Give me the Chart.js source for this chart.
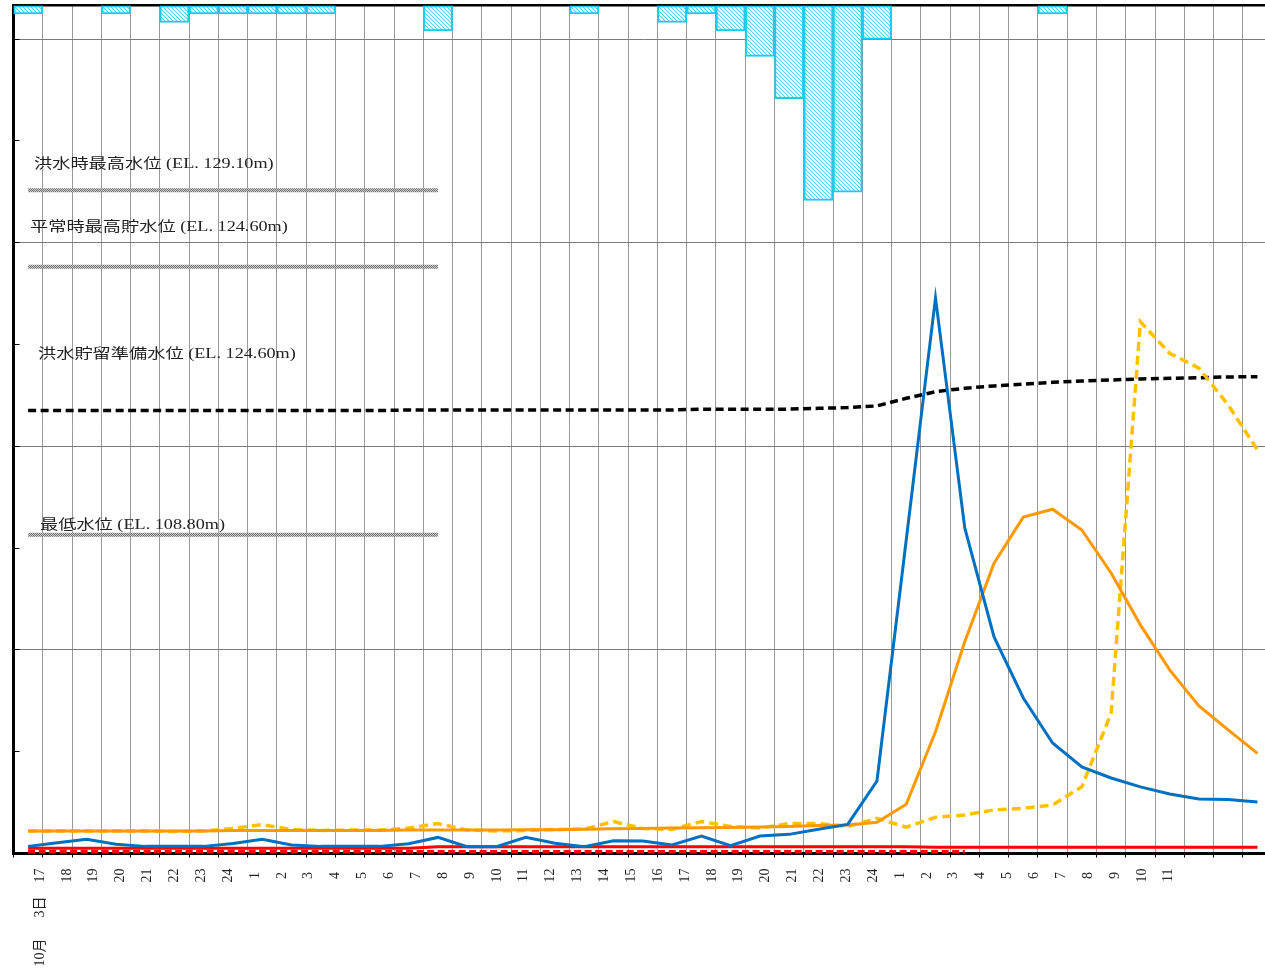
<!DOCTYPE html>
<html>
<head>
<meta charset="utf-8">
<script src="https://cdn.jsdelivr.net/npm/chart.js@4.4.0/dist/chart.umd.min.js"></script>
<style>
    html,body{margin:0;padding:0;background:#fff;overflow:hidden}
    canvas{display:block}
</style>
</head>
<body>
<canvas id="graf" width="1280" height="973"></canvas>
<script>

// 時刻 (10月3日17時 〜)
const hourLabels = ['17','18','19','20','21','22','23','24','1','2','3','4','5','6','7','8','9','10','11','12','13','14','15','16','17','18','19','20','21','22','23','24','1','2','3','4','5','6','7','8','9','10','11']
const dateLabel = '10月      3日    '

// 時間雨量 (mm)
const rainfall = [1,null,null,1,null,2,1,1,1,1,1,null,null,null,3,null,null,null,null,1,null,null,2,1,3,6,11,23,22,4,null,null,null,null,null,1,null,null,null,null,null,null,null]

// 流入量
const inflow = [3.5,5.3,7.0,4.5,3.5,3.5,3.5,4.9,7.0,4.2,3.5,3.5,3.5,4.8,7.9,3.3,3.3,8.0,5.0,3.3,6.3,6.1,4.2,8.6,3.8,8.6,9.4,11.9,14.3,35.6,154.0,272.9,159.9,106.4,76.4,54.3,42.5,37.1,32.7,29.2,26.8,26.5,25.3]

// 放流量
const outflow = [11.0,11.0,11.0,11.0,11.1,11.1,11.1,11.3,11.3,11.3,11.3,11.3,11.3,11.5,11.5,11.5,11.5,11.7,11.7,11.9,12.1,12.3,12.5,12.7,12.8,13.0,13.3,13.7,14.0,15.3,24.2,59.8,104.0,142.6,165.2,169.1,158.9,137.8,112.3,90.2,72.5,60.7,49.2]

// 下流流量
const downstream = [11.1,11.1,11.1,11.1,11.1,10.8,11.1,12.3,14.2,11.8,11.3,11.5,11.5,12.5,14.7,11.5,11.1,11.3,11.8,12.0,15.7,12.3,11.8,15.7,13.3,12.5,14.7,14.7,13.3,17.3,12.9,17.8,18.9,21.4,22.2,23.8,32.8,68.9,261.2,245.7,238.4,220.3,198.2]

// 貯水位 (EL. m)
const reservoirLevel = [116.12,116.12,116.12,116.12,116.12,116.12,116.12,116.12,116.12,116.12,116.12,116.12,116.12,116.15,116.15,116.15,116.15,116.15,116.15,116.15,116.15,116.15,116.15,116.20,116.20,116.20,116.20,116.25,116.29,116.39,116.84,117.23,117.43,117.57,117.68,117.78,117.86,117.92,117.98,118.02,118.05,118.10,118.11]

// 赤線
const redSolid = [2.6,2.6,2.6,2.6,2.6,2.6,2.6,2.6,2.6,2.6,2.6,2.6,2.6,2.6,3.3,3.3,3.3,3.3,3.3,3.3,3.3,3.3,3.3,3.3,3.3,3.3,3.3,3.3,3.3,3.3,3.3,3.1,3.1,3.1,3.1,3.1,3.1,3.1,3.1,3.1,3.1,3.1,3.1]
const redDotted = [0.9,0.9,0.9,0.9,0.9,0.9,0.9,0.9,0.9,0.9,0.9,0.9,0.9,0.9,0.9,0.9,0.9,0.9,0.9,0.9,0.9,0.9,0.9,0.9,0.9,0.9,0.9,0.9,0.9,0.9,0.9,0.9,0.9,null,null,null,null,null,null,null,null,null,null]

// 基準水位
const refLevels = [129.10, 124.60, 108.80]
const refFrom = 0
const refTo = 14

// 水位の注記
const notes = [
    {text: '洪水時最高水位 (EL. 129.10m)', x: 34, y: 164},
    {text: '平常時最高貯水位 (EL. 124.60m)', x: 30, y: 227},
    {text: '洪水貯留準備水位 (EL. 124.60m)', x: 38, y: 354},
    {text: '最低水位 (EL. 108.80m)', x: 40, y: 525}
]

const serif = '"Liberation Serif", "DejaVu Serif", "Noto Sans CJK JP", serif'

/**
 * @description: hachura dos blocos de chuva
 */
function hachura(){
    const c = document.createElement('canvas')
    c.width = 4
    c.height = 4
    const g = c.getContext('2d')
    g.fillStyle = '#ffffff'
    g.fillRect(0,0,4,4)
    g.strokeStyle = '#5ad2f2'
    g.lineWidth = 1.2
    g.beginPath()
    g.moveTo(-2,2); g.lineTo(2,6)
    g.moveTo(0,0); g.lineTo(4,4)
    g.moveTo(2,-2); g.lineTo(6,2)
    g.stroke()
    return g.createPattern(c,'repeat')
}

/**
 * @description: textura cinza das linhas de referencia
 */
function xadrez(){
    const c = document.createElement('canvas')
    c.width = 2
    c.height = 2
    const g = c.getContext('2d')
    g.fillStyle = '#cfcfcf'
    g.fillRect(0,0,2,2)
    g.fillStyle = '#6e6e6e'
    g.fillRect(0,0,1,1)
    g.fillRect(1,1,1,1)
    return g.createPattern(c,'repeat')
}

function refLine(level){
    return hourLabels.map((h,i) => (i === refFrom || i === refTo) ? level : null)
}

// notas de texto sobre o grafico
const notasPlugin = {
    id: 'notas',
    afterDatasetsDraw(chart){
        const ctx = chart.ctx
        ctx.save()
        ctx.fillStyle = '#222'
        ctx.font = '14px ' + serif
        ctx.textBaseline = 'middle'
        notes.forEach(n => {
            ctx.save()
            ctx.translate(n.x, n.y)
            ctx.scale(1.3, 1)
            ctx.fillText(n.text, 0, 0)
            ctx.restore()
        })
        ctx.restore()
    }
}

function gerarGrafico(){
    const textura = xadrez()

    const datasets = [
        {
            type: 'bar',
            data: rainfall,
            xAxisID: 'x',
            yAxisID: 'yR',
            backgroundColor: hachura(),
            borderColor: '#22c8f0',
            borderWidth: 2,
            borderSkipped: false,
            barPercentage: 1,
            categoryPercentage: 1,
            order: 10
        }
    ]

    refLevels.forEach(lv => {
        datasets.push({
            type: 'line', data: refLine(lv), xAxisID: 'x', yAxisID: 'yL',
            borderColor: textura, borderWidth: 4, pointRadius: 0, spanGaps: true, order: 5
        })
    })

    datasets.push(
        {type:'line', data: reservoirLevel, xAxisID:'x', yAxisID:'yL', borderColor:'#000', borderWidth:3.5, borderDash:[8,4.5], pointRadius:0, tension:0, order:4},
        {type:'line', data: redSolid, xAxisID:'x', yAxisID:'y', borderColor:'#ff0000', borderWidth:3, pointRadius:0, tension:0, order:3},
        {type:'line', data: redDotted, xAxisID:'x', yAxisID:'y', borderColor:'#ff0000', borderWidth:3.5, borderDash:[7,3.5], pointRadius:0, tension:0, clip:8, order:2.5},
        {type:'line', data: downstream, xAxisID:'x', yAxisID:'y', borderColor:'#ffc000', borderWidth:3.5, borderDash:[9,5], pointRadius:0, tension:0, order:2},
        {type:'line', data: outflow, xAxisID:'x', yAxisID:'y', borderColor:'#ff9900', borderWidth:3, pointRadius:0, tension:0, order:1},
        {type:'line', data: inflow, xAxisID:'x', yAxisID:'y', borderColor:'#0070c0', borderWidth:3, pointRadius:0, tension:0, order:0}
    )

    new Chart(
        document.getElementById('graf').getContext('2d'),
        {
            type: 'bar',
            data: {
                labels: hourLabels,
                datasets: datasets
            },
            options: {
                responsive: false,
                animation: false,
                layout: {
                    padding: {left: 13.5, right: 7.9, top: 5.5, bottom: 0}
                },
                plugins: {
                    legend: {display: false},
                    tooltip: {enabled: false}
                },
                scales: {
                    x: {
                        type: 'category',
                        position: 'bottom',
                        weight: 0,
                        offset: true,
                        grid: {offset: true, color: '#9a9a9a', lineWidth: 1, tickLength: 4, tickColor: '#000'},
                        border: {color: '#000', width: 3},
                        ticks: {display: false},
                        afterFit(s){ s.height = 0 }
                    },
                    xLab: {
                        type: 'linear',
                        axis: 'x',
                        position: 'bottom',
                        weight: 1,
                        min: -0.443,
                        max: 45.302,
                        grid: {display: false, drawTicks: false},
                        border: {display: false},
                        afterBuildTicks(s){
                            s.ticks = hourLabels.map((h,i) => ({value: i}))
                        },
                        ticks: {
                            autoSkip: false,
                            minRotation: 90,
                            maxRotation: 90,
                            padding: 15,
                            color: '#222',
                            font: {family: serif, size: 14},
                            callback(v){
                                const h = hourLabels[v]
                                if (v === 0) return dateLabel + h
                                return h.length === 1 ? h + ' ' : h
                            }
                        },
                        afterFit(s){ s.height = 119.5 }
                    },
                    xTop: {
                        type: 'linear',
                        position: 'top',
                        min: 0,
                        max: 1,
                        grid: {display: false, drawTicks: false},
                        ticks: {display: false},
                        border: {color: '#000', width: 2.5},
                        afterFit(s){ s.height = 0 }
                    },
                    y: {
                        type: 'linear',
                        position: 'left',
                        min: 0,
                        max: 416.5,
                        ticks: {display: false, stepSize: 50},
                        grid: {
                            color: c => (c.tick && c.tick.value > 0 && c.tick.value % 100 === 0) ? '#7a7a7a' : 'rgba(0,0,0,0)',
                            tickColor: c => (c.tick && c.tick.value % 50 === 0) ? '#000' : 'rgba(0,0,0,0)',
                            tickLength: -6,
                            lineWidth: 1
                        },
                        border: {color: '#000', width: 3},
                        afterFit(s){ s.width = 0 }
                    },
                    yR: {
                        type: 'linear',
                        display: false,
                        reverse: true,
                        min: 0,
                        max: 100
                    },
                    yL: {
                        type: 'linear',
                        display: false,
                        min: 90,
                        max: 140
                    }
                }
            },
            plugins: [notasPlugin]
        }
    )
}

gerarGrafico()
</script>
</body>
</html>
